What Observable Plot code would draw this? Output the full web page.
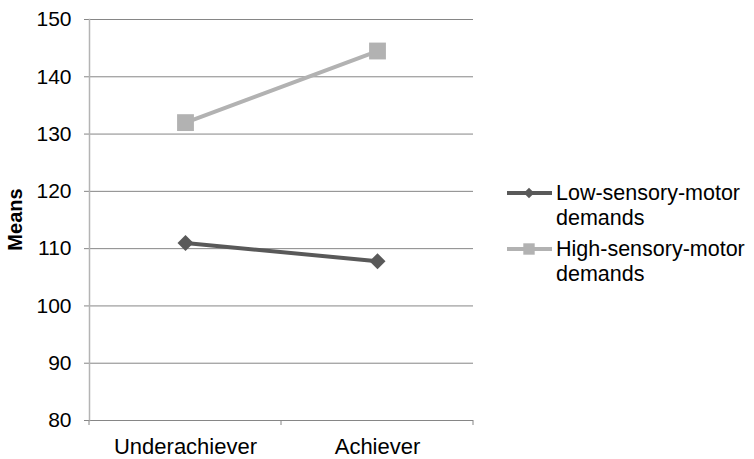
<!DOCTYPE html>
<html><head><meta charset="utf-8">
<script src="https://cdn.jsdelivr.net/npm/d3@7"></script>
<script src="https://cdn.jsdelivr.net/npm/@observablehq/plot@0.6"></script>
<style>
body{margin:0;background:#fff;}
#chart{position:relative;width:754px;height:459px;}
svg{font-family:"Liberation Sans",Arial,sans-serif;}
</style></head>
<body><div id="chart"></div>
<script>
const categories = ["Underachiever", "Achiever"];
const seriesNames = ["Low-sensory-motor demands", "High-sensory-motor demands"];
const lowValues = [111, 107.8];
const highValues = [132, 144.5];
const yTicks = [80, 90, 100, 110, 120, 130, 140, 150];
const colors = ["#595959", "#b2b2b2"];
const symbols = ["diamond2", "square"];

const data = [];
categories.forEach((c, i) => {
  data.push({cat: c, series: seriesNames[0], value: lowValues[i]});
  data.push({cat: c, series: seriesNames[1], value: highValues[i]});
});

const chart = Plot.plot({
  width: 754, height: 459,
  marginLeft: 89, marginRight: 281, marginTop: 19, marginBottom: 39,
  style: {fontFamily: '"Liberation Sans", Arial, sans-serif', fontSize: "21px", color: "#000", background: "#fff"},
  x: {type: "band", domain: categories, padding: 0},
  y: {domain: [80, 150]},
  color: {domain: seriesNames, range: colors},
  symbol: {domain: seriesNames, range: symbols},
  marks: [
    Plot.ruleY(yTicks, {stroke: "#868686", strokeWidth: 1}),
    Plot.axisY({ticks: yTicks, tickSize: 5, tickPadding: 13, stroke: "#868686", label: null, fontSize: 21}),
    Plot.axisX({tickSize: 0, tickPadding: 18, label: null, fontSize: 22}),
    Plot.frame({anchor: "left", stroke: "#b4b4b4", strokeWidth: 1.5}),
    Plot.line(data.filter(d => d.series === seriesNames[1]), {x: "cat", y: "value", stroke: colors[1], strokeWidth: 4}),
    Plot.line(data.filter(d => d.series === seriesNames[0]), {x: "cat", y: "value", stroke: colors[0], strokeWidth: 4}),
    Plot.dot(data.filter(d => d.series === seriesNames[1]), {x: "cat", y: "value", symbol: "series", fill: colors[1], r: 9.5, stroke: null}),
    Plot.dot(data.filter(d => d.series === seriesNames[0]), {x: "cat", y: "value", symbol: "series", fill: colors[0], r: 7.2, stroke: null})
  ]
});
document.getElementById("chart").appendChild(chart);

const svg = d3.select(chart);
const xs = chart.scale("x");
const ys = chart.scale("y");
const yBottom = ys.apply(80);
const bounds = categories.map(c => xs.apply(c)).concat([xs.apply(categories[categories.length - 1]) + xs.bandwidth]);
svg.append("g").selectAll("line").data(bounds).join("line")
  .attr("x1", d => d).attr("x2", d => d)
  .attr("y1", yBottom).attr("y2", yBottom + 5)
  .attr("stroke", "#868686");

// y-axis title
svg.append("text")
  .attr("transform", `translate(22,${(ys.apply(80) + ys.apply(150)) / 2}) rotate(-90)`)
  .attr("text-anchor", "middle")
  .attr("font-weight", "bold").attr("font-size", 20)
  .text("Means");

// legend
const legendY = [193, 249];
const legendLines = [["Low-sensory-motor", "demands"], ["High-sensory-motor", "demands"]];
const lg = svg.append("g").attr("text-anchor", "start");
seriesNames.forEach((s, i) => {
  const y = legendY[i];
  lg.append("line").attr("x1", 507).attr("x2", 552).attr("y1", y).attr("y2", y)
    .attr("stroke", colors[i]).attr("stroke-width", 4);
  const sym = i === 0 ? d3.symbolDiamond2 : d3.symbolSquare;
  const size = i === 0 ? 70 : 130;
  lg.append("path").attr("d", d3.symbol(sym, size)()).attr("transform", `translate(529,${y})`)
    .attr("fill", colors[i]);
  const t = lg.append("text").attr("x", 556).attr("y", y + 7).attr("font-size", 21.5)
    .attr("text-anchor", "start").attr("fill", "#000");
  t.append("tspan").attr("x", 556).text(legendLines[i][0]);
  t.append("tspan").attr("x", 556).attr("dy", 25).text(legendLines[i][1]);
});
</script>
</body></html>
